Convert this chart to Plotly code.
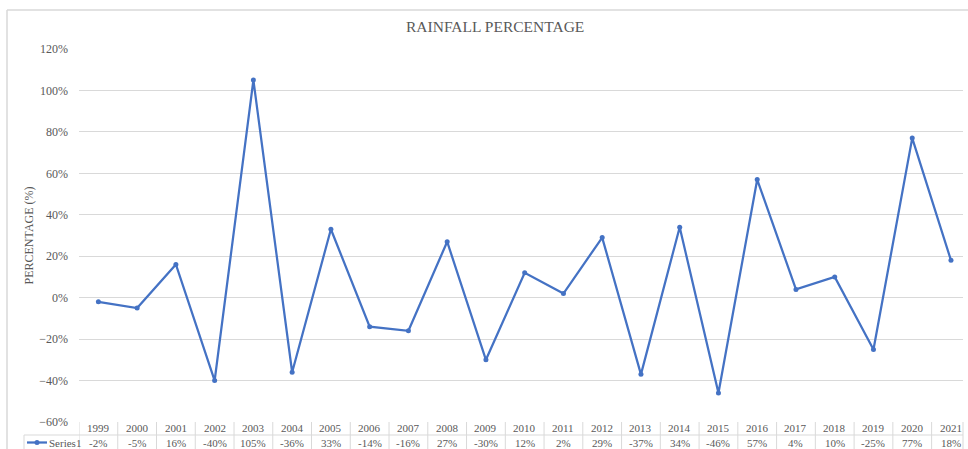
import plotly.graph_objects as go

years = [str(y) for y in range(1999, 2022)]
values = [-2, -5, 16, -40, 105, -36, 33, -14, -16, 27, -30, 12, 2, 29, -37, 34, -46, 57, 4, 10, -25, 77, 18]
series_name = "Series1"
title_text = "RAINFALL PERCENTAGE"
y_title = "PERCENTAGE (%)"

W, H = 968, 449
ML, MR, MT, MB = 79, 5, 49, 27
PW = W - ML - MR
PH = H - MT - MB

def px_x(x):
    return (x - ML) / PW

def px_y(y):
    return (H - MB - y) / PH

FONT = "Liberation Serif"
GRAY = "#595959"
GRID = "#D9D9D9"
BLUE = "#4472C4"

fig = go.Figure()
fig.add_trace(go.Scatter(
    x=list(range(len(years))), y=values, mode="lines+markers", name=series_name,
    line=dict(color=BLUE, width=2.25), marker=dict(color=BLUE, size=5),
    showlegend=False,
))

shapes = []
annotations = []
n = len(years)
row_top = px_y(H - MB)
row_mid = px_y(435)
row_bot = px_y(449)
for k in range(n + 1):
    xb = k - 0.5
    shapes.append(dict(type="line", xref="x", yref="paper", x0=xb, x1=xb, y0=row_top, y1=row_bot,
                       line=dict(color=GRID, width=1), layer="above"))
shapes.append(dict(type="line", xref="paper", yref="paper", x0=1, x1=1, y0=row_top, y1=row_bot,
                   line=dict(color=GRID, width=1)))
shapes.append(dict(type="line", xref="paper", yref="paper", x0=px_x(24), x1=1, y0=row_mid, y1=row_mid,
                   line=dict(color=GRID, width=1)))
shapes.append(dict(type="line", xref="paper", yref="paper", x0=px_x(24), x1=px_x(24), y0=row_mid, y1=row_bot,
                   line=dict(color=GRID, width=1)))
shapes.append(dict(type="line", xref="paper", yref="paper", x0=px_x(7), x1=px_x(968), y0=px_y(10), y1=px_y(10),
                   line=dict(color=GRID, width=1.5)))
shapes.append(dict(type="line", xref="paper", yref="paper", x0=px_x(7), x1=px_x(7), y0=px_y(10), y1=px_y(449),
                   line=dict(color=GRID, width=1.5)))

# legend key in the table
ly = px_y(442.5)
shapes.append(dict(type="line", xref="paper", yref="paper", x0=px_x(27), x1=px_x(47), y0=ly, y1=ly,
                   line=dict(color=BLUE, width=2.25)))
shapes.append(dict(type="circle", xref="paper", yref="paper", x0=px_x(34.5), x1=px_x(39.5),
                   y0=px_y(445), y1=px_y(440), fillcolor=BLUE, line=dict(color=BLUE, width=0)))
annotations.append(dict(x=px_x(47), y=ly, xref="paper", yref="paper", text=series_name, showarrow=False,
                        font=dict(family=FONT, size=11, color=GRAY), xanchor="left", yanchor="middle"))

for i, (yr, v) in enumerate(zip(years, values)):
    annotations.append(dict(x=i, y=px_y(428.5), xref="x", yref="paper", text=yr, showarrow=False,
                            font=dict(family=FONT, size=11, color=GRAY), xanchor="center", yanchor="middle"))
    annotations.append(dict(x=i, y=px_y(442.5), xref="x", yref="paper", text=f"{v}%", showarrow=False,
                            font=dict(family=FONT, size=11, color=GRAY), xanchor="center", yanchor="middle"))

annotations.append(dict(x=px_x(28), y=0.5, xref="paper", yref="paper", text=y_title, textangle=-90,
                        showarrow=False, font=dict(family=FONT, size=12, color=GRAY),
                        xanchor="center", yanchor="middle"))
annotations.append(dict(x=px_x(495), y=px_y(27), xref="paper", yref="paper", text=title_text,
                        showarrow=False, font=dict(family=FONT, size=15.5, color=GRAY),
                        xanchor="center", yanchor="middle"))

fig.update_layout(
    width=W, height=H,
    margin=dict(l=ML, r=MR, t=MT, b=MB, pad=0, autoexpand=False),
    plot_bgcolor="white", paper_bgcolor="white",
    shapes=shapes, annotations=annotations, showlegend=False,
    xaxis=dict(range=[-0.5, 22.31], showgrid=False, zeroline=False, showticklabels=False,
               showline=False, fixedrange=True, automargin=False),
    yaxis=dict(range=[-60, 120], dtick=20, ticksuffix="%", showgrid=True, gridcolor=GRID, gridwidth=1,
               zeroline=True, zerolinecolor=GRID, zerolinewidth=1, showline=False, automargin=False,
               tickfont=dict(family=FONT, size=12, color=GRAY), ticks="", ticklabelstandoff=10),
)

fig.write_html("out.html", config={"displayModeBar": False},
               post_script="document.body.style.margin='0px';document.body.style.overflow='hidden';")
